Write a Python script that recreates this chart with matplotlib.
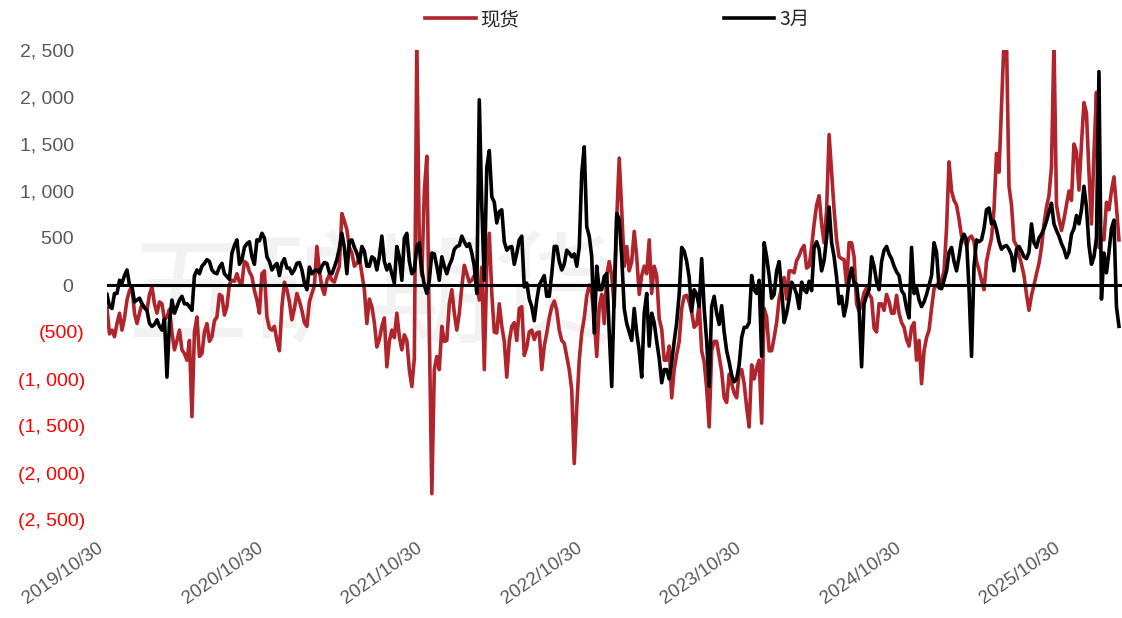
import matplotlib
matplotlib.use("Agg")
import matplotlib.pyplot as plt
import matplotlib.ticker as mticker
import matplotlib.transforms as mtransforms
import pandas as pd

# Spread values, about every 5-6 days, 2019/10/30 .. 2026/03/05
spot = [
    -250, -520, -480, -550, -410, -300, -480, -350, -160, -60,
    -20, -300, -410, -300, -200, -240, -270, -100, -20, -200,
    -300, -180, -200, -370, -340, -260, -510, -690, -590, -480,
    -690, -730, -800, -590, -1400, -500, -340, -760, -730, -500,
    -410, -600, -550, -380, -340, -100, -120, -320, -230, 10,
    50, 40, 120, 30, 20, 250, 230, 140, 90, -60,
    -160, -300, 120, 150, -340, -460, -480, -440, -590, -700,
    -230, 30, -50, -180, -370, -250, -90, -170, -270, -400,
    -440, -180, -90, -10, 410, 150, -20, -100, 50, 110,
    50, 30, 120, 200, 760, 680, 590, 400, 340, 200,
    230, 290, 120, -50, -410, -150, -230, -400, -660, -580,
    -440, -350, -870, -600, -480, -560, -300, -550, -690, -530,
    -590, -900, -1080, -780, 2600, 400, 100, 1000, 1370, -500,
    -2220, -900, -760, -900, -440, -600, -590, -200, -50, -300,
    -480, -300, -20, 210, 120, 30, 50, 100, 20, -160,
    190, -900, 200, 550, -90, -500, -510, -200, -440, -600,
    -980, -600, -440, -400, -590, -250, -230, -750, -660, -500,
    -480, -580, -510, -500, -900, -650, -510, -350, -230, -170,
    -270, -480, -590, -620, -760, -900, -1120, -1900, -1300, -800,
    -510, -350, -120, 0, -90, -350, -760, -230, -100, -410,
    100, 250, 100, -230, 700, 1350, 800, 200, 410, 150,
    250, 570, 300, -100, 100, 200, 120, 480, -90, 200,
    100, -360, -470, -800, -800, -650, -1200, -900, -740, -600,
    -250, -120, -110, -180, -290, -450, -420, -200, -700, -820,
    -1100, -1510, -700, -600, -600, -760, -920, -1200, -1250, -950,
    -1050, -1150, -1200, -940, -900, -1050, -1300, -1510, -850, -1000,
    -880, -800, -1470, -250, -340, -700, -700, -560, -400, -150,
    -20, 80, -150, 150, 150, 130, 260, 310, 380, 420,
    180, 200, 400, 650, 850, 950, 650, 450, 800, 1600,
    1200, 800, 480, 300, 280, 270, 0, 450, 450, 300,
    -200, -280, -200, -80, -30, -100, -140, -460, -500, -200,
    -200, -270, -100, -180, -300, -300, -110, -300, -400, -450,
    -580, -650, -450, -400, -800, -590, -1050, -700, -560, -480,
    -250, -40, 0, 20, 50, 150, 600, 1310, 1000, 900,
    850, 700, 520, 480, 420, 500, 520, 460, 250, 160,
    50, -50, 250, 380, 500, 800, 1400, 1200, 1900, 2600,
    2600, 1050, 850, 470, 420, 320, 220, 100, -100, -270,
    -110, 0, 120, 230, 400, 650, 830, 950, 1260, 2600,
    850, 700, 580, 700, 850, 1000, 900, 1500, 1420, 1010,
    1500, 1940, 1830, 1200, 650, 1400, 2050, 400, 500, 480,
    880, 800, 1000, 1150, 830, 480,
]
march = [
    -100, -230, -250, -90, -90, 50, 20, 100, 160, 0,
    -20, -180, -160, -140, -200, -240, -270, -410, -440, -420,
    -370, -440, -480, -360, -980, -400, -160, -300, -230, -160,
    -120, -200, -200, -230, -270, 100, 160, 120, 200, 230,
    270, 250, 160, 130, 120, 190, 230, 120, 90, 60,
    340, 420, 480, 220, 270, 400, 440, 460, 300, 220,
    480, 470, 550, 500, 300, 250, 160, 200, 230, 100,
    230, 280, 180, 180, 120, 160, 230, 240, 160, 20,
    -50, 190, 120, 150, 160, 130, 200, 240, 230, 130,
    120, 190, 270, 390, 550, 400, 120, 470, 480, 400,
    340, 240, 410, 360, 200, 200, 300, 280, 160, 300,
    520, 250, 160, 220, 120, 20, 410, 300, 50, 500,
    550, 250, 120, 150, 410, 450, 160, 0, -90, 50,
    340, 330, 200, 50, 300, 200, 120, 210, 270, 380,
    410, 420, 520, 460, 410, 440, 340, 200, -90, 1970,
    840, 50, 1250, 1430, 940, 880, 660, 780, 800, 460,
    370, 400, 410, 220, 340, 480, 520, -20, 20, -150,
    -230, -380, -160, 0, 50, 100, -120, -120, 120, 410,
    410, 250, 160, 220, 370, 340, 300, 330, 200, 400,
    1190, 1470, 620, 520, 300, -510, 200, -50, -50, 90,
    120, -500, -1080, -100, 760, 700, 300, -250, -410, -500,
    -590, -250, -510, -700, -980, -300, -90, -650, -300, -400,
    -600, -780, -1040, -900, -900, -1000, -820, -600, -400, -100,
    400, 360, 250, 80, -280, -50, -100, -230, 280, -250,
    -600, -1080, -230, -120, -300, -420, -220, -500, -700, -820,
    -960, -1030, -1000, -850, -560, -450, -450, -400, 100, -50,
    -90, 50, -760, 450, 300, 100, -140, -100, 150, 250,
    -50, -400, -300, -150, 30, -20, -100, -250, 30, -50,
    -80, 40, -60, 400, 460, 380, 150, 260, 500, 830,
    450, 300, 80, -200, -120, -330, -200, 60, 180, 20,
    10, -250, -870, -200, -110, -50, 300, 200, 30, -50,
    250, 370, 410, 330, 280, 200, 140, 100, -60, -100,
    -250, -350, 400, -90, -30, -160, -230, -180, -100, 0,
    100, 450, 350, -30, -40, 50, 150, 350, 400, 250,
    150, 300, 480, 540, 480, -50, -760, 200, 480, 460,
    480, 600, 800, 820, 650, 680, 590, 460, 380, 410,
    420, 380, 320, 150, 380, 410, 360, 300, 280, 350,
    650, 450, 400, 500, 540, 600, 680, 780, 870, 650,
    580, 520, 440, 380, 290, 350, 540, 600, 740, 650,
    800, 1050, 830, 420, 220, 300, 500, 2270, -150, 340,
    130, 350, 600, 690, -230, -440,
]
tick_dates = ["2019-10-30", "2020-10-30", "2021-10-30", "2022-10-30",
              "2023-10-30", "2024-10-30", "2025-10-30"]
tick_labels = ["2019/10/30", "2020/10/30", "2021/10/30", "2022/10/30",
               "2023/10/30", "2024/10/30", "2025/10/30"]
y_ticks = [-2500, -2000, -1500, -1000, -500, 0, 500, 1000, 1500, 2000, 2500]

dates = pd.date_range("2019-10-30", "2026-03-05", periods=len(spot))

RED = "#B0242B"
GRAY = "#595959"
CJK = ["Noto Sans CJK SC", "DejaVu Sans"]

fig = plt.figure(figsize=(11.22, 6.18), dpi=100)
ax = fig.add_axes([107 / 1122, 1 - 520 / 618, 1015 / 1122, 470 / 618])

# faint watermark behind the lines
ax.text(0.33, 0.515, "五矿期货", fontsize=88, color="#F2F2F2", family=CJK,
        ha="center", va="center", transform=fig.transFigure, zorder=0)

ax.plot(dates, spot, color=RED, lw=2.6, label="现货", zorder=3)
ax.plot(dates, march, color="black", lw=2.6, label="3月", zorder=4)
ax.axhline(0, color="black", lw=2.2, zorder=5)

start = pd.Timestamp("2019-10-30")
ax.set_xlim(start, start + pd.Timedelta(days=2325))
ax.set_ylim(-2500, 2500)

for s in ax.spines.values():
    s.set_visible(False)

# y axis: accounting style, negatives red in parentheses
def yfmt(v, pos):
    s = f"{abs(v):,.0f}".replace(",", ", ")
    if v < 0:
        return f"({s})"
    return s + "  "

ax.set_yticks(y_ticks)
ax.yaxis.set_major_formatter(mticker.FuncFormatter(yfmt))
ax.tick_params(axis="y", length=0, pad=16, labelsize=14)
for lab, v in zip(ax.get_yticklabels(), y_ticks):
    lab.set_family("Liberation Sans")
    lab.set_color("#FF0000" if v < 0 else GRAY)

ax.set_xticks(pd.to_datetime(tick_dates))
ax.set_xticklabels(tick_labels, rotation=35, ha="right", va="top",
                   rotation_mode="anchor", fontsize=13.5, color=GRAY,
                   family="Liberation Sans")
ax.tick_params(axis="x", length=0, pad=14)
shift = mtransforms.ScaledTranslation(-10 / 100, 0, fig.dpi_scale_trans)
for lab in ax.get_xticklabels():
    lab.set_transform(lab.get_transform() + shift)

fig.legend(loc="center", bbox_to_anchor=(0.55, 0.968), ncol=2, frameon=False,
           handlelength=2.6, handletextpad=0.25, columnspacing=10.5,
           prop={"family": CJK, "size": 14}, labelcolor="#262626")

fig.savefig("out.png", dpi=100)
